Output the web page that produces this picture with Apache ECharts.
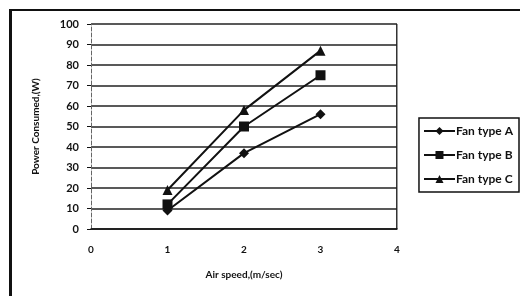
<!DOCTYPE html>
<html>
<head>
<meta charset="utf-8">
<script src="https://cdn.jsdelivr.net/npm/echarts@6/dist/echarts.min.js"></script>
<style>
  html, body { margin: 0; padding: 0; background: #fff; }
  #main { width: 520px; height: 296px; }
</style>
</head>
<body>
<div id="main"></div>
<script>
var airSpeed = [1, 2, 3];
var fanA = [9, 37, 56];
var fanB = [12, 50, 75];
var fanC = [19, 58, 87];
var seriesNames = ['Fan type A', 'Fan type B', 'Fan type C'];

var myChart = echarts.init(document.getElementById('main'));

var font = 'Lato, "Open Sans", sans-serif';

function pairs(ys) {
    var res = [];
    for (var i = 0; i < airSpeed.length; i++) {
        res.push([airSpeed[i], ys[i]]);
    }
    return res;
}

function lineSeries(name, ys, symbol, size) {
    return {
        name: name,
        type: 'line',
        data: pairs(ys),
        symbol: symbol,
        symbolSize: size,
        showAllSymbol: true,
        lineStyle: { color: '#111', width: 2 },
        itemStyle: { color: '#111' }
    };
}

var option = {
    animation: false,
    backgroundColor: '#fff',
    grid: { left: 91, right: 123, top: 24, bottom: 67 },
    legend: {
        orient: 'vertical',
        right: 1,
        top: 118,
        itemGap: 12,
        itemWidth: 31,
        itemHeight: 10,
        padding: [7, 6, 7, 4],
        borderColor: '#111',
        borderWidth: 1.5,
        textStyle: { color: '#111', fontFamily: font, fontWeight: 'bold', fontSize: 12, padding: [0, 0, 0, -4] },
        data: seriesNames
    },
    xAxis: {
        type: 'value',
        min: 0,
        max: 4,
        interval: 1,
        name: 'Air speed,(m/sec)',
        nameLocation: 'middle',
        nameGap: 41,
        nameTextStyle: { color: '#111', fontFamily: font, fontWeight: 'bold', fontSize: 10 },
        axisLine: { show: true, lineStyle: { color: '#111', width: 1.5 } },
        axisTick: { show: false },
        axisLabel: { color: '#111', fontFamily: font, fontWeight: 'bold', fontSize: 10, margin: 16 },
        splitLine: { show: false }
    },
    yAxis: {
        type: 'value',
        min: 0,
        max: 100,
        interval: 10,
        name: 'Power Consumed,(W)',
        nameLocation: 'middle',
        nameGap: 50,
        nameTextStyle: { color: '#111', fontFamily: font, fontWeight: 'bold', fontSize: 10 },
        axisLine: { show: true, lineStyle: { color: '#666', width: 1, type: 'dashed' } },
        axisTick: { show: true, length: 4, lineStyle: { color: '#111' } },
        axisLabel: { color: '#111', fontFamily: font, fontWeight: 'bold', fontSize: 11, margin: 12 },
        splitLine: { show: true, lineStyle: { color: '#222', width: 1.5 } }
    },
    graphic: {
        elements: [
            // outer chart frame (left and top edges)
            { type: 'rect', left: 9, top: 9, shape: { width: 3, height: 290 }, style: { fill: '#111' } },
            { type: 'rect', left: 9, top: 9, shape: { width: 515, height: 2 }, style: { fill: '#111' } },
            // right edge of plot area
            { type: 'rect', left: 396, top: 24, shape: { width: 1.5, height: 205 }, style: { fill: '#333' } }
        ]
    },
    series: [
        lineSeries(seriesNames[0], fanA, 'diamond', 10),
        lineSeries(seriesNames[1], fanB, 'rect', 10),
        lineSeries(seriesNames[2], fanC, 'triangle', 10)
    ]
};
myChart.setOption(option);
</script>
</body>
</html>
